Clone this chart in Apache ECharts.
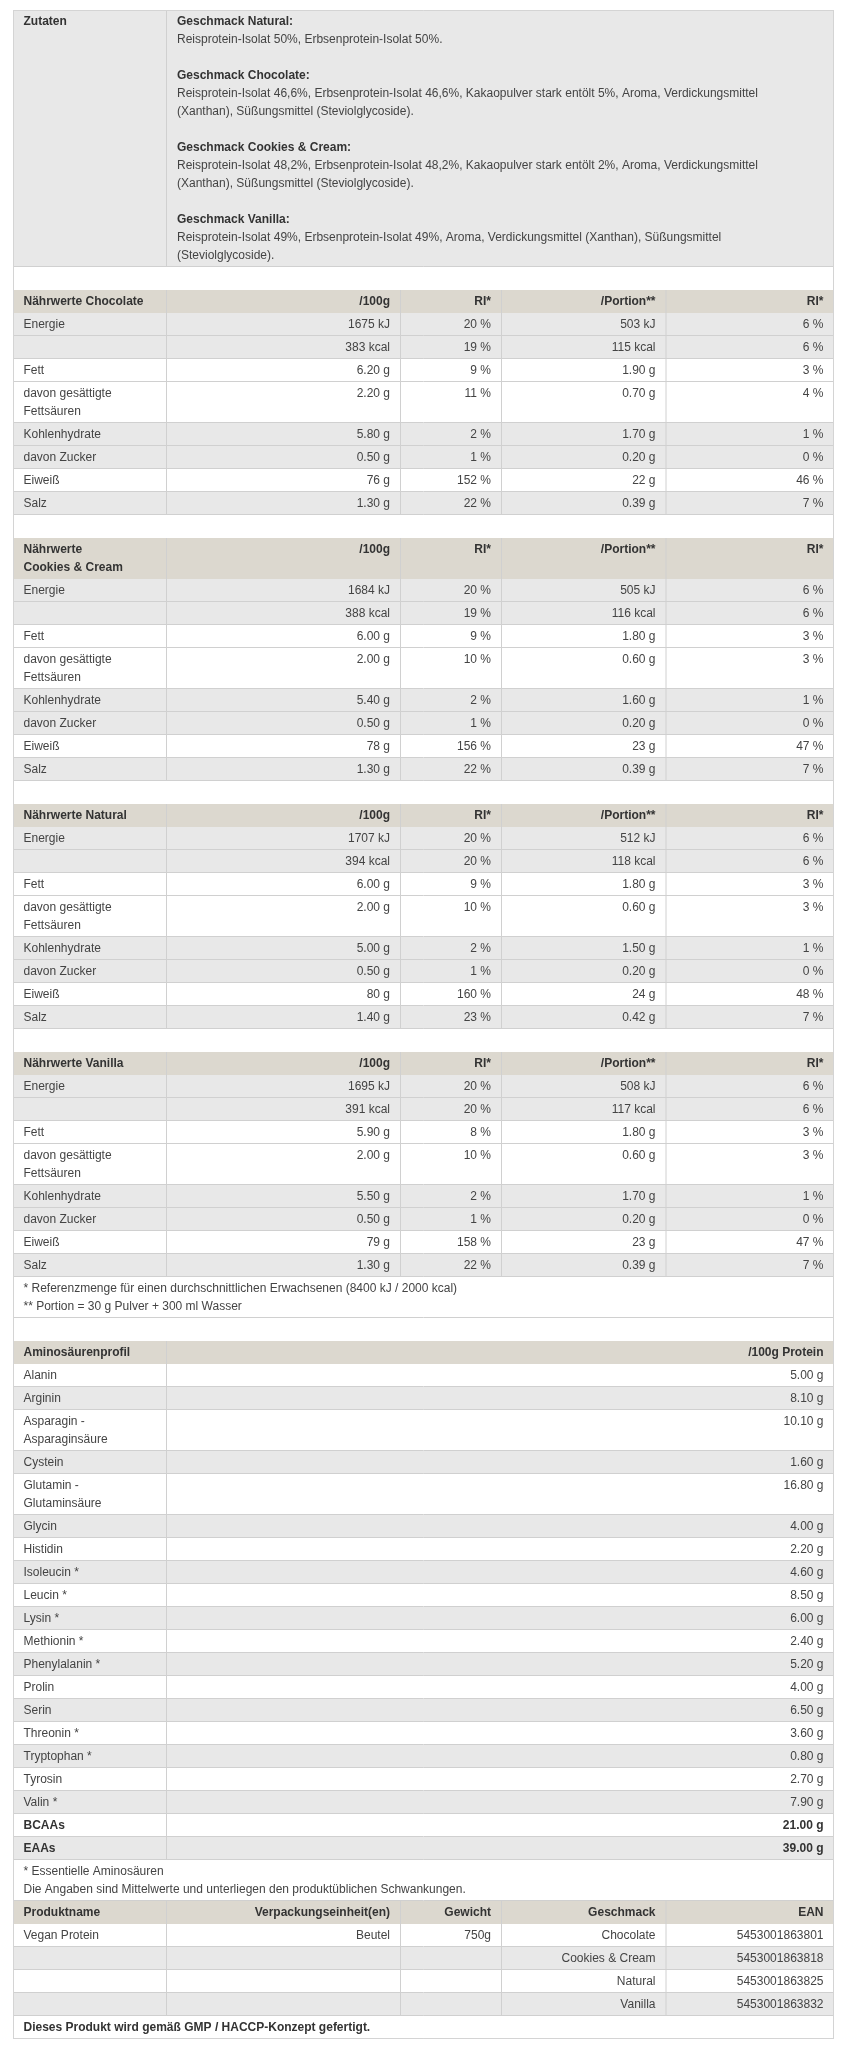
<!DOCTYPE html>
<html><head><meta charset="utf-8">
<script src="https://cdn.jsdelivr.net/npm/echarts@6/dist/echarts.min.js"></script>
<style>html,body{margin:0;padding:0;background:#fff}#c{width:849px;height:2048px}</style>
</head><body><div id="c"></div>
<script>
// ---------- DATA ----------
const zutatenLabel = 'Zutaten';
const ingredientTitles = ['Geschmack Natural:', 'Geschmack Chocolate:', 'Geschmack Cookies & Cream:', 'Geschmack Vanilla:'];
const ingredientLines = [
  ['Reisprotein-Isolat 50%, Erbsenprotein-Isolat 50%.'],
  ['Reisprotein-Isolat 46,6%, Erbsenprotein-Isolat 46,6%, Kakaopulver stark entölt 5%, Aroma, Verdickungsmittel', '(Xanthan), Süßungsmittel (Steviolglycoside).'],
  ['Reisprotein-Isolat 48,2%, Erbsenprotein-Isolat 48,2%, Kakaopulver stark entölt 2%, Aroma, Verdickungsmittel', '(Xanthan), Süßungsmittel (Steviolglycoside).'],
  ['Reisprotein-Isolat 49%, Erbsenprotein-Isolat 49%, Aroma, Verdickungsmittel (Xanthan), Süßungsmittel', '(Steviolglycoside).']
];

const nutriHeader = ['/100g', 'RI*', '/Portion**', 'RI*'];
const nutrientLabels = [['Energie'], [''], ['Fett'], ['davon gesättigte', 'Fettsäuren'], ['Kohlenhydrate'], ['davon Zucker'], ['Eiweiß'], ['Salz']];

const chocolateTitle = ['Nährwerte Chocolate'];
const chocolatePer100g = ['1675 kJ', '383 kcal', '6.20 g', '2.20 g', '5.80 g', '0.50 g', '76 g', '1.30 g'];
const chocolateRI100g = ['20 %', '19 %', '9 %', '11 %', '2 %', '1 %', '152 %', '22 %'];
const chocolatePortion = ['503 kJ', '115 kcal', '1.90 g', '0.70 g', '1.70 g', '0.20 g', '22 g', '0.39 g'];
const chocolateRIPortion = ['6 %', '6 %', '3 %', '4 %', '1 %', '0 %', '46 %', '7 %'];

const cookiesTitle = ['Nährwerte', 'Cookies & Cream'];
const cookiesPer100g = ['1684 kJ', '388 kcal', '6.00 g', '2.00 g', '5.40 g', '0.50 g', '78 g', '1.30 g'];
const cookiesRI100g = ['20 %', '19 %', '9 %', '10 %', '2 %', '1 %', '156 %', '22 %'];
const cookiesPortion = ['505 kJ', '116 kcal', '1.80 g', '0.60 g', '1.60 g', '0.20 g', '23 g', '0.39 g'];
const cookiesRIPortion = ['6 %', '6 %', '3 %', '3 %', '1 %', '0 %', '47 %', '7 %'];

const naturalTitle = ['Nährwerte Natural'];
const naturalPer100g = ['1707 kJ', '394 kcal', '6.00 g', '2.00 g', '5.00 g', '0.50 g', '80 g', '1.40 g'];
const naturalRI100g = ['20 %', '20 %', '9 %', '10 %', '2 %', '1 %', '160 %', '23 %'];
const naturalPortion = ['512 kJ', '118 kcal', '1.80 g', '0.60 g', '1.50 g', '0.20 g', '24 g', '0.42 g'];
const naturalRIPortion = ['6 %', '6 %', '3 %', '3 %', '1 %', '0 %', '48 %', '7 %'];

const vanillaTitle = ['Nährwerte Vanilla'];
const vanillaPer100g = ['1695 kJ', '391 kcal', '5.90 g', '2.00 g', '5.50 g', '0.50 g', '79 g', '1.30 g'];
const vanillaRI100g = ['20 %', '20 %', '8 %', '10 %', '2 %', '1 %', '158 %', '22 %'];
const vanillaPortion = ['508 kJ', '117 kcal', '1.80 g', '0.60 g', '1.70 g', '0.20 g', '23 g', '0.39 g'];
const vanillaRIPortion = ['6 %', '6 %', '3 %', '3 %', '1 %', '0 %', '47 %', '7 %'];

const nutriFootnotes = ['* Referenzmenge für einen durchschnittlichen Erwachsenen (8400 kJ / 2000 kcal)', '** Portion = 30 g Pulver + 300 ml Wasser'];

const aminoHeader = ['Aminosäurenprofil', '/100g Protein'];
const aminoNames = [['Alanin'], ['Arginin'], ['Asparagin -', 'Asparaginsäure'], ['Cystein'], ['Glutamin -', 'Glutaminsäure'], ['Glycin'], ['Histidin'], ['Isoleucin *'], ['Leucin *'], ['Lysin *'], ['Methionin *'], ['Phenylalanin *'], ['Prolin'], ['Serin'], ['Threonin *'], ['Tryptophan *'], ['Tyrosin'], ['Valin *'], ['BCAAs'], ['EAAs']];
const aminoValues = ['5.00 g', '8.10 g', '10.10 g', '1.60 g', '16.80 g', '4.00 g', '2.20 g', '4.60 g', '8.50 g', '6.00 g', '2.40 g', '5.20 g', '4.00 g', '6.50 g', '3.60 g', '0.80 g', '2.70 g', '7.90 g', '21.00 g', '39.00 g'];
const aminoBold = ['BCAAs', 'EAAs'];
const aminoFootnotes = ['* Essentielle Aminosäuren', 'Die Angaben sind Mittelwerte und unterliegen den produktüblichen Schwankungen.'];

const productHeader = ['Produktname', 'Verpackungseinheit(en)', 'Gewicht', 'Geschmack', 'EAN'];
const productRows = [
  ['Vegan Protein', 'Beutel', '750g', 'Chocolate', '5453001863801'],
  ['', '', '', 'Cookies & Cream', '5453001863818'],
  ['', '', '', 'Natural', '5453001863825'],
  ['', '', '', 'Vanilla', '5453001863832']
];
const finalNote = 'Dieses Produkt wird gemäß GMP / HACCP-Konzept gefertigt.';

// ---------- LAYOUT / STYLE ----------
const W = 821;
const LINE = 18, BASE = 23, SPACER = 23, PAD = 10.5;
const C_NUT = [0, 153.5, 387.5, 488.5, 653, W];
const C_AMI = [0, 153.5, W];
const C_FULL = [0, W];
const WHITE = '#ffffff', GRAY = '#e8e8e8', HEAD = '#dcd8cf';
const LINE_C = '#d0d0d0', OUTER_C = '#d4d4d4', TEXT_C = '#444444', BOLD_C = '#333333';
const FONT = '"Liberation Sans", Arial, Helvetica, sans-serif';
const nutriStripes = [1, 1, 0, 0, 1, 1, 0, 1];

let cursor = 0;
const rows = [];
function addRow(cols, cells, bg, opts) {
  opts = opts || {};
  const n = Math.max(1, ...cells.map(c => c.lines.length));
  const h = opts.h || (BASE + (n - 1) * LINE);
  rows.push({ y: cursor, h, cols, cells, bg, vlines: opts.vlines !== false, line: opts.line !== false });
  cursor += h;
}
function C(ci, lines, align, bold) {
  return { ci, lines, align: align || 'left', bold: Array.isArray(bold) ? bold : lines.map(() => !!bold) };
}
function spacer() { addRow(C_FULL, [], WHITE, { h: SPACER, vlines: false, line: false }); }

// Zutaten
(function () {
  const lines = [], bold = [];
  ingredientTitles.forEach((t, i) => {
    if (i > 0) { lines.push(''); bold.push(false); }
    lines.push(t); bold.push(true);
    ingredientLines[i].forEach(l => { lines.push(l); bold.push(false); });
  });
  addRow(C_AMI, [C(0, [zutatenLabel], 'left', true), C(1, lines, 'left', bold)], GRAY);
})();
spacer();

function addNutri(title, per100, ri100, portion, riPortion) {
  addRow(C_NUT, [C(0, title, 'left', true)].concat(nutriHeader.map((h, i) => C(i + 1, [h], 'right', true))), HEAD, { line: false });
  nutrientLabels.forEach((lab, i) => {
    addRow(C_NUT, [C(0, lab), C(1, [per100[i]], 'right'), C(2, [ri100[i]], 'right'), C(3, [portion[i]], 'right'), C(4, [riPortion[i]], 'right')],
      nutriStripes[i] ? GRAY : WHITE);
  });
}
addNutri(chocolateTitle, chocolatePer100g, chocolateRI100g, chocolatePortion, chocolateRIPortion);
spacer();
addNutri(cookiesTitle, cookiesPer100g, cookiesRI100g, cookiesPortion, cookiesRIPortion);
spacer();
addNutri(naturalTitle, naturalPer100g, naturalRI100g, naturalPortion, naturalRIPortion);
spacer();
addNutri(vanillaTitle, vanillaPer100g, vanillaRI100g, vanillaPortion, vanillaRIPortion);
addRow(C_FULL, [C(0, nutriFootnotes)], WHITE, { vlines: false });
spacer();

// Amino
addRow(C_AMI, [C(0, [aminoHeader[0]], 'left', true), C(1, [aminoHeader[1]], 'right', true)], HEAD, { line: false });
aminoNames.forEach((nm, i) => {
  const b = aminoBold.indexOf(nm[0]) >= 0;
  addRow(C_AMI, [C(0, nm, 'left', b), C(1, [aminoValues[i]], 'right', b)], i % 2 ? GRAY : WHITE);
});
addRow(C_FULL, [C(0, aminoFootnotes)], WHITE, { vlines: false });

// Product
addRow(C_NUT, productHeader.map((h, i) => C(i, [h], i === 0 ? 'left' : 'right', true)), HEAD, { line: false });
productRows.forEach((r, i) => {
  addRow(C_NUT, r.map((v, j) => C(j, [v], j === 0 ? 'left' : 'right')), i % 2 ? GRAY : WHITE);
});
addRow(C_FULL, [C(0, [finalNote], 'left', true)], WHITE, { vlines: false });

const TOTAL = cursor;

// ---------- CHART ----------
const chart = echarts.init(document.getElementById('c'), null, { renderer: 'canvas' });
chart.setOption({
  animation: false,
  backgroundColor: '#ffffff',
  grid: { left: 13, top: 10, width: W, height: TOTAL },
  xAxis: { type: 'value', min: 0, max: W, show: false },
  yAxis: { type: 'value', min: 0, max: TOTAL, inverse: true, show: false },
  series: [{
    type: 'custom',
    silent: true,
    coordinateSystem: 'cartesian2d',
    data: rows.map((r, i) => [i]),
    renderItem: function (params, api) {
      const r = rows[api.value(0)];
      const tl = api.coord([0, r.y]);
      const br = api.coord([W, r.y + r.h]);
      const children = [];
      children.push({ type: 'rect', shape: { x: tl[0], y: tl[1], width: br[0] - tl[0], height: br[1] - tl[1] }, style: { fill: r.bg } });
      if (r.line) {
        children.push({ type: 'line', shape: { x1: tl[0], y1: br[1] - 0.5, x2: br[0], y2: br[1] - 0.5 }, style: { stroke: LINE_C, lineWidth: 1 } });
      }
      if (r.vlines) {
        for (let k = 1; k < r.cols.length - 1; k++) {
          const px = api.coord([r.cols[k], 0])[0];
          children.push({ type: 'line', shape: { x1: px, y1: tl[1], x2: px, y2: br[1] }, style: { stroke: LINE_C, lineWidth: 1 } });
        }
      }
      children.push({ type: 'line', shape: { x1: tl[0] + 0.5, y1: tl[1], x2: tl[0] + 0.5, y2: br[1] }, style: { stroke: OUTER_C, lineWidth: 1 } });
      children.push({ type: 'line', shape: { x1: br[0] - 0.5, y1: tl[1], x2: br[0] - 0.5, y2: br[1] }, style: { stroke: OUTER_C, lineWidth: 1 } });
      if (r.y === 0) {
        children.push({ type: 'line', shape: { x1: tl[0], y1: tl[1] + 0.5, x2: br[0], y2: tl[1] + 0.5 }, style: { stroke: OUTER_C, lineWidth: 1 } });
      }
      if (r.y + r.h === TOTAL) {
        children.push({ type: 'line', shape: { x1: tl[0], y1: br[1] - 0.5, x2: br[0], y2: br[1] - 0.5 }, style: { stroke: OUTER_C, lineWidth: 1 } });
      }
      r.cells.forEach(c => {
        const x0 = r.cols[c.ci], x1 = r.cols[c.ci + 1];
        c.lines.forEach((t, li) => {
          if (!t) return;
          const p = api.coord([c.align === 'right' ? x1 - PAD : x0 + PAD, r.y + 11.5 + li * LINE]);
          children.push({
            type: 'text',
            style: {
              text: t, x: p[0], y: p[1],
              align: c.align, verticalAlign: 'middle',
              fill: c.bold[li] ? BOLD_C : TEXT_C,
              font: (c.bold[li] ? 'bold ' : '') + '12px ' + FONT
            }
          });
        });
      });
      return { type: 'group', children };
    }
  }]
});
</script></body></html>
